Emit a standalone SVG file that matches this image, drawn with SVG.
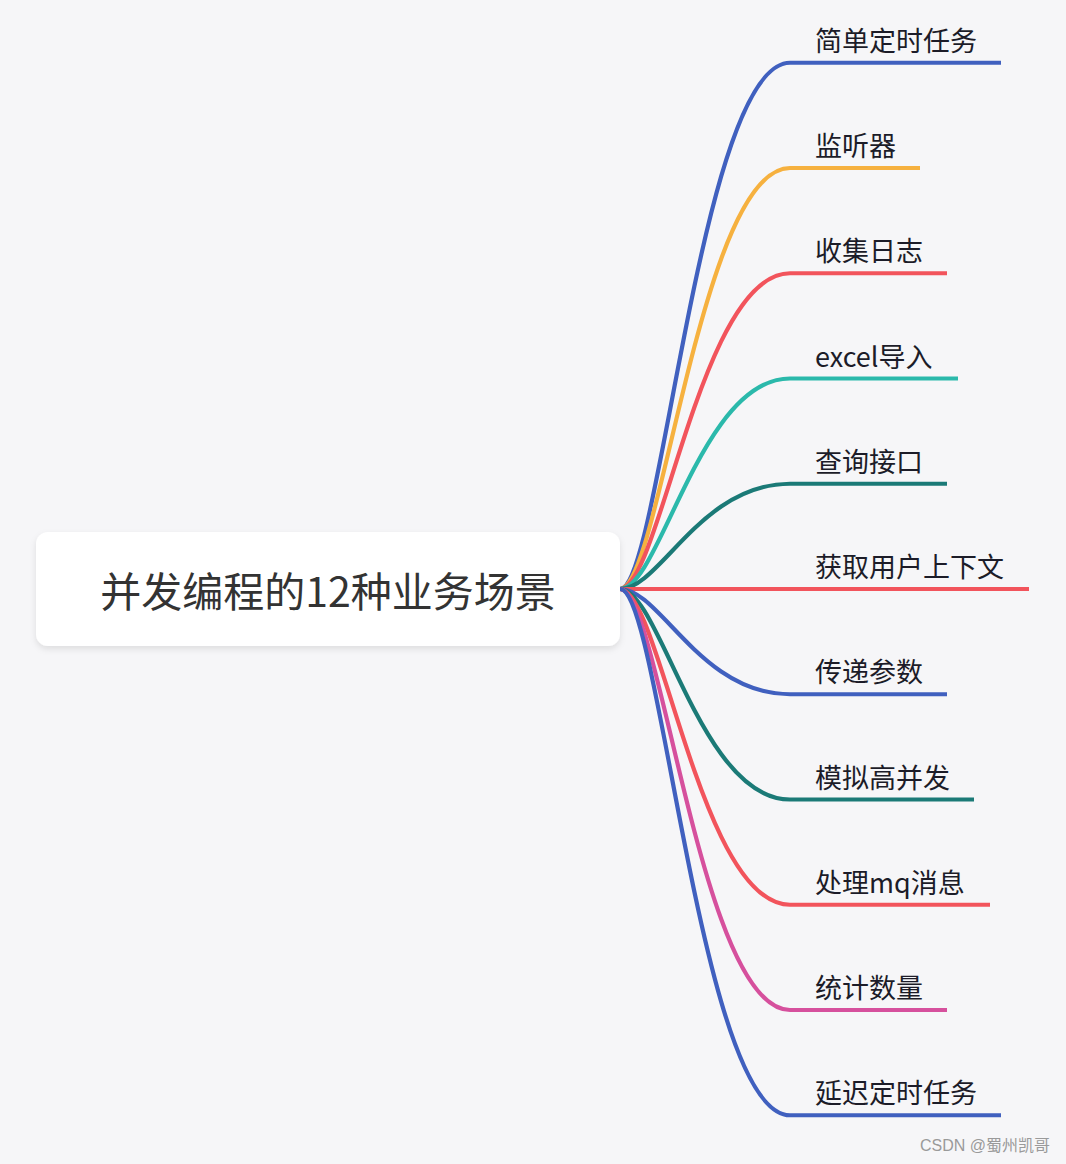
<svg xmlns="http://www.w3.org/2000/svg" width="1066" height="1164" viewBox="0 0 1066 1164">
<defs>
<filter id="sh" x="-10%" y="-30%" width="120%" height="160%">
<feDropShadow dx="0" dy="3" stdDeviation="3" flood-color="#000" flood-opacity="0.10"/>
</filter>
<style>
.br{fill:none;stroke-width:4.2;stroke-linecap:butt}
.lbl{font-family:"Noto Sans CJK SC","Noto Sans",sans-serif;font-size:27px;fill:#1c1c28}
.root{font-family:"Noto Sans CJK SC","Noto Sans",sans-serif;font-size:41px;fill:#333}
.blue{stroke:#4060bf}.orange{stroke:#f6b13f}.red{stroke:#f2545c}.teal{stroke:#2bb9ab}.dteal{stroke:#1b7a77}.pink{stroke:#d6509d}
</style>
</defs>
<rect width="1066" height="1164" fill="#f6f6f8"/>
<g id="connectors">
<path class="br blue" d="M620 589 C660 589 700 62.75 790 62.75 H1001"/>
<path class="br orange" d="M620 589 C660 589 700 168 790 168 H920"/>
<path class="br red" d="M620 589 C660 589 700 273.25 790 273.25 H947"/>
<path class="br teal" d="M620 589 C660 589 700 378.5 790 378.5 H958"/>
<path class="br dteal" d="M620 589 C660 589 700 483.75 790 483.75 H947"/>
<path class="br red" d="M620 589 H1029"/>
<path class="br blue" d="M620 589 C660 589 700 694.25 790 694.25 H947"/>
<path class="br dteal" d="M620 589 C660 589 700 799.5 790 799.5 H974"/>
<path class="br red" d="M620 589 C660 589 700 904.75 790 904.75 H990"/>
<path class="br pink" d="M620 589 C660 589 700 1010 790 1010 H947"/>
<path class="br blue" d="M620 589 C660 589 700 1115.25 790 1115.25 H1001"/>
</g>
<g id="root">
<rect x="36" y="532" width="584" height="114" rx="12" fill="#fff" filter="url(#sh)"/>
<text class="root" x="328" y="606.5" text-anchor="middle">并发编程的12种业务场景</text>
</g>
<g id="n1"><text class="lbl" x="815" y="51">简单定时任务</text></g>
<g id="n2"><text class="lbl" x="815" y="156">监听器</text></g>
<g id="n3"><text class="lbl" x="815" y="261">收集日志</text></g>
<g id="n4"><text class="lbl" x="815" y="366.5">excel导入</text></g>
<g id="n5"><text class="lbl" x="815" y="472">查询接口</text></g>
<g id="n6"><text class="lbl" x="815" y="577">获取用户上下文</text></g>
<g id="n7"><text class="lbl" x="815" y="682">传递参数</text></g>
<g id="n8"><text class="lbl" x="815" y="787.5">模拟高并发</text></g>
<g id="n9"><text class="lbl" x="815" y="893">处理mq消息</text></g>
<g id="n10"><text class="lbl" x="815" y="998">统计数量</text></g>
<g id="n11"><text class="lbl" x="815" y="1103">延迟定时任务</text></g>
<text x="1050" y="1151" text-anchor="end" font-family="'Liberation Sans','Noto Sans CJK SC',sans-serif" font-size="16" fill="#9a9a9a">CSDN @蜀州凯哥</text>
</svg>
